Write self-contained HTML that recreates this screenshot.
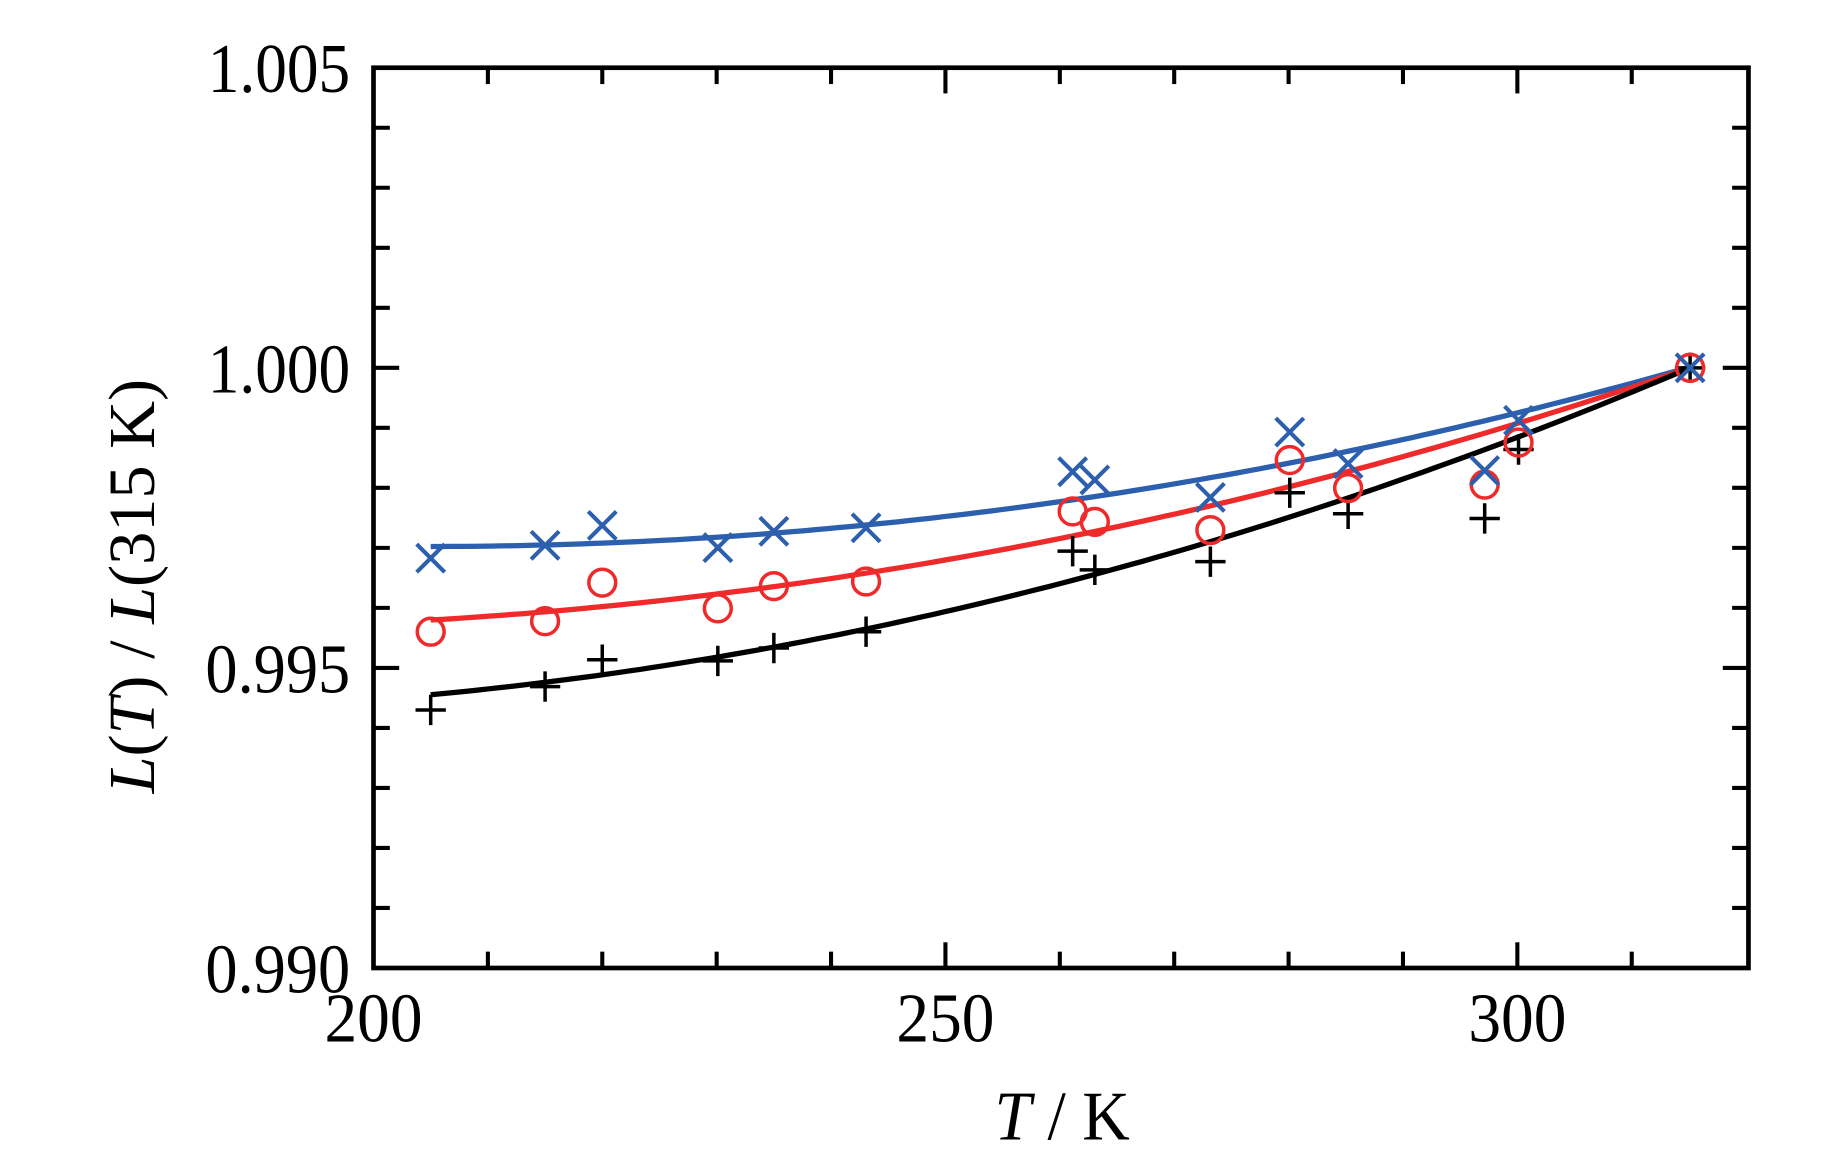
<!DOCTYPE html>
<html><head><meta charset="utf-8"><style>html,body{margin:0;padding:0;background:#fff}svg{display:block}</style></head>
<body>
<svg id="s" width="1829" height="1170" viewBox="0 0 1567 1002" preserveAspectRatio="none" xmlns="http://www.w3.org/2000/svg" font-family="Liberation Serif, serif">
<rect x="0" y="0" width="1567" height="1002" fill="#fff"/>
<g id="ticks" stroke="#000" stroke-width="3.5"></g>
<path id="cb" fill="none" stroke="#2c5fad" stroke-width="4.5"/>
<path id="cr" fill="none" stroke="#ee2a2a" stroke-width="4.5"/>
<path id="ck" fill="none" stroke="#000" stroke-width="4.5"/>
<g id="mk"></g>
<rect x="320" y="58" width="1178" height="771" fill="none" stroke="#000" stroke-width="4"/>
<g font-size="60" text-anchor="end">
<text x="300" y="79" textLength="122" lengthAdjust="spacingAndGlyphs">1.005</text>
<text x="300" y="336" textLength="122" lengthAdjust="spacingAndGlyphs">1.000</text>
<text x="300" y="593" textLength="124" lengthAdjust="spacingAndGlyphs">0.995</text>
<text x="300" y="850" textLength="124" lengthAdjust="spacingAndGlyphs">0.990</text>
</g>
<g font-size="60" text-anchor="middle">
<text x="320" y="892" textLength="84" lengthAdjust="spacingAndGlyphs">200</text>
<text x="810" y="892" textLength="84" lengthAdjust="spacingAndGlyphs">250</text>
<text x="1300" y="892" textLength="84" lengthAdjust="spacingAndGlyphs">300</text>
<text x="910" y="976" textLength="116" lengthAdjust="spacingAndGlyphs"><tspan font-style="italic">T</tspan> / K</text>
</g>
<text transform="translate(132,502) rotate(-90)" font-size="56" text-anchor="middle" textLength="355" lengthAdjust="spacingAndGlyphs"><tspan font-style="italic">L</tspan>(<tspan font-style="italic">T</tspan>) / <tspan font-style="italic">L</tspan>(315 K)</text>
</svg>
<script>
var NS="http://www.w3.org/2000/svg";
function el(p,t,a){var e=document.createElementNS(NS,t);for(var k in a)e.setAttribute(k,a[k]);p.appendChild(e);return e;}
var tg=document.getElementById("ticks");
for(var i=1;i<12;i++){var x=320+98*i;var L=(i%5==0)?22:14;
el(tg,"line",{x1:x,y1:829,x2:x,y2:829-L});el(tg,"line",{x1:x,y1:58,x2:x,y2:58+L});}
for(var j=1;j<15;j++){var y=58+771*j/15;var L=(j%5==0)?22:14;
el(tg,"line",{x1:320,y1:y,x2:320+L,y2:y});el(tg,"line",{x1:1498,y1:y,x2:1498-L,y2:y});}
function curve(id,y0,a,b){var d="";for(var x=369;x<=1448;x+=10){var dx=x-369;d+=(d?"L":"M")+x+","+(y0-a*dx-b*dx*dx).toFixed(1);}
var dx=1079;d+="L1448,"+(y0-a*dx-b*dx*dx).toFixed(1);document.getElementById(id).setAttribute("d",d);}
curve("cb",468,0,1.32e-4);
curve("cr",531,0.0588,1.311e-4);
curve("ck",595,0.0937,1.537e-4);
var xs=[369,467,516,615,663,742,919,938,1037,1105,1155,1272,1301,1448];
var bl=[478,467,450,469,455,452,404,411,426,370,397,403,360,315];
var rd=[541,532,499,521,502,498,438,447,454,394,418,415,379,315];
var bk=[608,588,565,566,555,541,472,488,481,422,440,444,385,315];
var mk=document.getElementById("mk");
for(var i=0;i<xs.length;i++){var x=xs[i],s=13;
el(mk,"path",{d:"M"+(x-s)+","+bk[i]+"H"+(x+s)+"M"+x+","+(bk[i]-s)+"V"+(bk[i]+s),stroke:"#000","stroke-width":3,fill:"none"});
el(mk,"circle",{cx:x,cy:rd[i],r:11.5,stroke:"#ee2a2a","stroke-width":3,fill:"none"});
var t=12;el(mk,"path",{d:"M"+(x-t)+","+(bl[i]-t)+"L"+(x+t)+","+(bl[i]+t)+"M"+(x-t)+","+(bl[i]+t)+"L"+(x+t)+","+(bl[i]-t),stroke:"#2c5fad","stroke-width":3.5,fill:"none"});}
</script>
</body></html>
